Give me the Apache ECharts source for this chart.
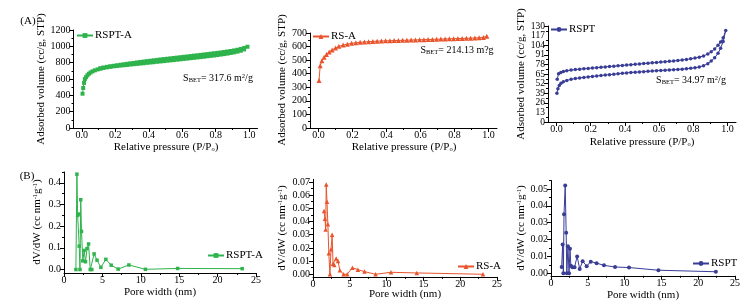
<!DOCTYPE html>
<html>
<head>
<meta charset="utf-8">
<script src="https://cdn.jsdelivr.net/npm/echarts@6/dist/echarts.min.js"></script>
<style>
html, body { margin: 0; padding: 0; background: #fff; }
#main { width: 747px; height: 303px; }
</style>
</head>
<body>
<div id="main"></div>
<script>
// ---- N2 isotherms (relative pressure / adsorbed volume) ----
var rsptaAdsP = [0.004,0.008,0.013,0.018,0.025,0.033,0.042,0.052,0.064,0.078,0.094,0.112,0.13,0.15,0.17,0.19,0.21,0.23,0.25,0.27,0.29,0.31,0.33,0.35,0.37,0.39,0.41,0.43,0.45,0.47,0.49,0.51,0.53,0.55,0.57,0.59,0.61,0.63,0.65,0.67,0.69,0.71,0.73,0.75,0.77,0.79,0.81,0.83,0.85,0.87,0.89,0.91,0.93,0.95,0.97,0.99];
var rsptaAdsV = [420,490,552,598,622,645,664,680,694,706,717,727,736,743,749,755,760,764,768,772,777,781,785,789,793,798,802,806,811,815,819,824,828,832,837,841,846,850,855,859,864,868,873,878,883,888,893,899,905,911,918,926,935,946,962,995];
var rsptaDesP = [0.97,0.95,0.93,0.91,0.89,0.87,0.85,0.83,0.81,0.79,0.77,0.75,0.73,0.71,0.69,0.67,0.65,0.63,0.61,0.59,0.57,0.55,0.53,0.51,0.49,0.47,0.45,0.43,0.41,0.39,0.37,0.35,0.33,0.31,0.29,0.27,0.25,0.23,0.21,0.19,0.17,0.15,0.13,0.11];
var rsptaDesV = [980,968,958,950,943,937,931,925,920,915,910,905,900,895,890,886,881,876,872,867,862,858,853,848,844,839,834,829,824,819,814,808,803,797,792,786,780,774,768,762,756,749,741,731];

var rsaP = [0.003,0.01,0.02,0.033,0.047,0.063,0.08,0.1,0.12,0.145,0.17,0.195,0.22,0.245,0.27,0.295,0.32,0.345,0.37,0.395,0.42,0.445,0.47,0.495,0.52,0.545,0.57,0.595,0.62,0.645,0.67,0.695,0.72,0.745,0.77,0.795,0.82,0.845,0.87,0.895,0.92,0.945,0.97,0.99];
var rsaV = [350,458,495,522,542,560,575,590,602,611,618,624,628,631,634,636,638,640,641,642,643,644,645,646,647,648,649,650,651,652,653,654,655,656,657,658,659,660,661,662,663,665,667,676];

var rsptAdsP = [0.002,0.008,0.016,0.026,0.04,0.06,0.085,0.11,0.135,0.16,0.185,0.21,0.235,0.26,0.285,0.31,0.335,0.36,0.385,0.41,0.435,0.46,0.485,0.51,0.535,0.56,0.585,0.61,0.635,0.66,0.685,0.71,0.735,0.76,0.785,0.81,0.835,0.86,0.885,0.905,0.925,0.945,0.96,0.975,0.99];
var rsptAdsV = [39,45,49.5,52.5,54.5,56.3,57.8,58.9,59.7,60.4,61.1,61.7,62.3,62.9,63.5,64.1,64.7,65.3,65.9,66.5,67,67.4,67.8,68.2,68.6,69,69.4,69.8,70.2,70.5,70.8,71.2,71.6,72.1,72.7,73.4,74.5,76.2,79,82.5,87,93,100,109,124];
var rsptDesP = [0.975,0.96,0.945,0.925,0.905,0.885,0.86,0.835,0.81,0.785,0.76,0.735,0.71,0.685,0.66,0.635,0.61,0.585,0.56,0.535,0.51,0.485,0.46,0.435,0.41,0.385,0.36,0.335,0.31,0.285,0.26,0.235,0.21,0.185,0.16,0.135,0.11,0.085,0.06,0.04,0.025,0.012,0.004];
var rsptDesV = [114,108.5,104,99,95,92,89.5,87.8,86.6,85.6,84.8,84,83.3,82.7,82.1,81.6,81.1,80.6,80.1,79.6,79.1,78.6,78.1,77.6,77.1,76.6,76.1,75.6,75.1,74.6,74.1,73.6,73.1,72.6,72.1,71.6,71,70.3,69.4,68.4,67.2,65.5,58];

// ---- pore size distributions (pore width nm / dV/dW) ----
var rsptaWidth = [1.55,1.68,1.78,1.9,1.98,2.08,2.18,2.28,2.45,2.62,2.8,3.0,3.2,3.42,3.62,3.92,4.3,4.8,5.45,6.15,7.05,8.45,10.6,14.8,23.2];
var rsptaDvdw = [0,0.44,0.25,0.256,0.108,0,0.322,0.176,0.04,0.088,0.036,0.097,0.118,0,0,0.072,0.043,0.01,0.047,0.02,0.002,0.021,0.001,0.005,0.004];
var rsaWidth = [1.5,1.62,1.72,1.8,1.9,2.02,2.15,2.3,2.45,2.6,2.72,2.9,3.15,3.4,3.65,4.15,4.65,5.35,6.1,7.0,8.5,10.6,14.1,23.1];
var rsaDvdw = [0.048,0.042,0.034,0.068,0.055,0.038,0.016,0,0.019,0.030,0.008,0.007,0.012,0.010,0.003,0,0,0.005,0.0035,0.002,0,0.0015,0.001,0];
var rsptWidth = [1.45,1.58,1.68,1.77,1.93,2.06,2.15,2.3,2.45,2.58,2.7,2.9,3.2,3.55,3.9,4.3,4.85,5.4,6.2,7.2,8.7,10.6,14.6,22.4];
var rsptDvdw = [0.0037,0.017,0,0.035,0.052,0.024,0,0.016,0,0.0145,0.0045,0.0036,0.0036,0.0100,0.0025,0.0072,0.0042,0.0069,0.006,0.0047,0.0037,0.0034,0.0018,0.0009];

// ---- tick values ----
var pressureTicks = [0,0.2,0.4,0.6,0.8,1.0];
var pressureMinor = [0.1,0.3,0.5,0.7,0.9];
var widthTicks = [0,5,10,15,20,25];
var widthMinor = [2.5,7.5,12.5,17.5,22.5];
var rsptaVolTicks = [0,200,400,600,800,1000,1200];
var rsptaVolMinor = [100,300,500,700,900,1100];
var rsaVolTicks = [0,100,200,300,400,500,600,700];
var rsaVolMinor = [50,150,250,350,450,550,650];
var rsptVolTicks = [0,13,26,39,52,65,78,91,104,117,130];
var rsptVolMinor = [6.5,19.5,32.5,45.5,58.5,71.5,84.5,97.5,110.5,123.5];
var rsptaDvTicks = [0,0.1,0.2,0.3,0.4];
var rsptaDvMinor = [0.05,0.15,0.25,0.35,0.45];
var rsaDvTicks = [0,0.01,0.02,0.03,0.04,0.05,0.06,0.07];
var rsaDvMinor = [0.005,0.015,0.025,0.035,0.045,0.055,0.065];
var rsptDvTicks = [0,0.01,0.02,0.03,0.04,0.05];
var rsptDvMinor = [0.005,0.015,0.025,0.035,0.045,0.055];

var green = '#2fb34c', orange = '#e9542c', blue = '#393d96';
var serif = '"Liberation Serif", "Times New Roman", serif';

var grids = [
    { left: 73.5, top: 30, width: 184, height: 98 },
    { left: 310, top: 33, width: 187, height: 95 },
    { left: 548, top: 26, width: 188, height: 96 },
    { left: 64, top: 172, width: 192, height: 101 },
    { left: 313, top: 179.3, width: 184, height: 97.6 },
    { left: 551, top: 180.5, width: 184, height: 95.3 }
];

function zip(a, b) {
    var out = [];
    for (var i = 0; i < a.length; i++) out.push([a[i], b[i]]);
    return out;
}

// main axis with custom tick positions + an overlay axis carrying the short minor ticks
function axisPair(pos, grid, min, max, major, minor, digits, fontSize) {
    var main = {
        type: 'value', gridIndex: grid, min: min, max: max, position: pos,
        axisLine: { show: true, onZero: false, lineStyle: { color: '#000', width: 1 } },
        axisTick: { show: true, length: 4, customValues: major, lineStyle: { color: '#000' } },
        axisLabel: {
            customValues: major, color: '#000', fontFamily: serif, fontSize: fontSize || 10,
            lineHeight: 9, margin: 3, showMinLabel: true, showMaxLabel: true, hideOverlap: false,
            formatter: function (v) { return (+v).toFixed(digits); }
        },
        splitLine: { show: false }
    };
    var minorAxis = {
        type: 'value', gridIndex: grid, min: min, max: max, position: pos,
        axisLine: { show: false, onZero: false },
        axisTick: { show: true, length: 2, customValues: minor, lineStyle: { color: '#000' } },
        axisLabel: { show: false },
        splitLine: { show: false }
    };
    return [main, minorAxis];
}

var xAxes = [].concat(
    axisPair('bottom', 0, -0.05, 1.05, pressureTicks, pressureMinor, 1),
    axisPair('bottom', 1, -0.05, 1.05, pressureTicks, pressureMinor, 1),
    axisPair('bottom', 2, -0.05, 1.05, pressureTicks, pressureMinor, 1),
    axisPair('bottom', 3, 0, 25, widthTicks, widthMinor, 0),
    axisPair('bottom', 4, 0, 25, widthTicks, widthMinor, 0),
    axisPair('bottom', 5, 0, 25, widthTicks, widthMinor, 0)
);
var yAxes = [].concat(
    axisPair('left', 0, 0, 1200, rsptaVolTicks, rsptaVolMinor, 0),
    axisPair('left', 1, 0, 700, rsaVolTicks, rsaVolMinor, 0),
    axisPair('left', 2, 0, 130, rsptVolTicks, rsptVolMinor, 0, 9.5),
    axisPair('left', 3, -0.016, 0.45, rsptaDvTicks, rsptaDvMinor, 1),
    axisPair('left', 4, -0.002, 0.072, rsaDvTicks, rsaDvMinor, 2),
    axisPair('left', 5, -0.0015, 0.055, rsptDvTicks, rsptDvMinor, 2)
);

function lineSeries(name, idx, data, color, symbol, size) {
    return {
        type: 'line', name: name, xAxisIndex: idx * 2, yAxisIndex: idx * 2,
        data: data, symbol: symbol, symbolSize: size, showSymbol: true,
        lineStyle: { color: color, width: 1 }, itemStyle: { color: color },
        animation: false
    };
}

function legendAt(name, left, top) {
    return {
        data: [name], left: left, top: top, padding: 0, itemWidth: 16, itemHeight: 6, itemGap: 0,
        textStyle: { color: '#000', fontFamily: serif, fontSize: 11, padding: [0, 0, 0, -3] }
    };
}

var smallRich = {
    sub: { fontSize: 6.5, fontFamily: serif, fill: '#000', verticalAlign: 'bottom', lineHeight: 7 },
    sup: { fontSize: 6.5, fontFamily: serif, fill: '#000', verticalAlign: 'top', lineHeight: 7 }
};

// axis titles and notes as free text, centred on (x, y)
function label(text, x, y, size, rotate) {
    return {
        type: 'text', x: x, y: y, rotation: rotate ? Math.PI / 2 : 0,
        style: {
            text: text, fill: '#000', font: size + 'px ' + serif, lineHeight: 11,
            align: 'center', verticalAlign: 'middle', rich: smallRich
        }
    };
}

var pName = 'Relative pressure (P/P{sub|o})';
var vName = 'Adsorbed volume (cc/g, STP)';
var wName = 'Pore width (nm)';
var dName = 'dV/dW (cc nm{sup|-1}g{sup|-1})';

var chart = echarts.init(document.getElementById('main'));
chart.setOption({
    backgroundColor: '#fff',
    animation: false,
    grid: grids,
    xAxis: xAxes,
    yAxis: yAxes,
    legend: [
        legendAt('RSPT-A', 76, 30),
        legendAt('RS-A', 312, 31),
        legendAt('RSPT', 550, 24),
        legendAt('RSPT-A ', 207, 250),
        legendAt('RS-A ', 457, 261),
        legendAt('RSPT ', 692, 258)
    ],
    graphic: [
        label('(A)', 28, 21, 11, false),
        label('(B)', 27, 176, 11, false),
        label(vName, 41, 79, 11, true),
        label(vName, 282, 80, 11, true),
        label(vName, 521, 74, 11, true),
        label(dName, 37, 222, 11, true),
        label(dName, 282, 228, 11, true),
        label(dName, 521, 228, 11, true),
        label(pName, 166, 147, 11, false),
        label(pName, 404, 147, 11, false),
        label(pName, 642, 142, 11, false),
        label(wName, 160, 292, 11, false),
        label(wName, 405, 294, 11, false),
        label(wName, 643, 295, 11, false),
        label('S{sub|BET}= 317.6 m{sup|2}/g', 218, 78, 10, false),
        label('S{sub|BET}= 214.13 m?g', 457, 50, 10, false),
        label('S{sub|BET}= 34.97 m{sup|2}/g', 691, 80, 10, false)
    ],
    series: [
        lineSeries('RSPT-A', 0, zip(rsptaAdsP, rsptaAdsV).concat(zip(rsptaDesP, rsptaDesV)), green, 'rect', 4),
        lineSeries('RS-A', 1, zip(rsaP, rsaV), orange, 'triangle', 5),
        lineSeries('RSPT', 2, zip(rsptAdsP, rsptAdsV).concat(zip(rsptDesP, rsptDesV)), blue, 'circle', 3.5),
        lineSeries('RSPT-A ', 3, zip(rsptaWidth, rsptaDvdw), green, 'rect', 3.5),
        lineSeries('RS-A ', 4, zip(rsaWidth, rsaDvdw), orange, 'triangle', 4.5),
        lineSeries('RSPT ', 5, zip(rsptWidth, rsptDvdw), blue, 'circle', 4)
    ]
});

// keep every numeric tick label that ECharts placed beside an axis visible
function showTickLabels() {
    var zr = chart.getZr();
    function walk(el) {
        if (el.isGroup) { el.eachChild(walk); return; }
        if (!el.style || el.style.text == null || (!el.ignore && !el.invisible)) return;
        if (!/^-?[\d.]+$/.test(String(el.style.text))) return;
        var r = el.getBoundingRect().clone();
        var m = el.getComputedTransform && el.getComputedTransform();
        if (m) r.applyTransform(m);
        var cx = r.x + r.width / 2, cy = r.y + r.height / 2;
        grids.forEach(function (g) {
            var right = g.left + g.width, bottom = g.top + g.height;
            var besideY = cx < g.left && cx > g.left - 30 && cy > g.top - 8 && cy < bottom + 8;
            var belowX = cy > bottom && cy < bottom + 16 && cx > g.left - 8 && cx < right + 8;
            if (besideY || belowX) { el.ignore = false; el.invisible = false; }
        });
    }
    zr.storage.getRoots().forEach(walk);
    zr.refreshImmediately();
}
showTickLabels();
setTimeout(showTickLabels, 50);
</script>
</body>
</html>
